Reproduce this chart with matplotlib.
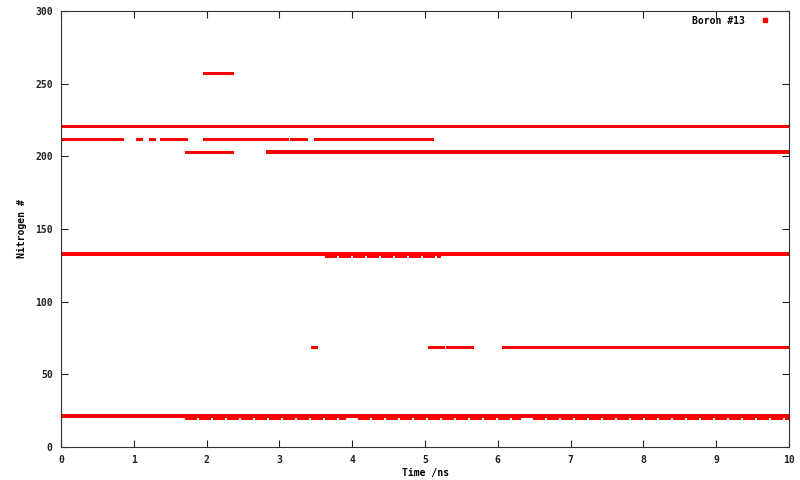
import matplotlib
matplotlib.use("Agg")
import matplotlib.pyplot as plt

# Occupancy segments: nitrogen index bonded to Boron #13, from t_start to t_end (ns)
seg_nitrogen = [221,
                212, 212, 212, 212, 212, 212, 212, 212, 212,
                203, 203, 203, 203,
                257, 257,
                133, 131, 131,
                69, 69, 69, 69, 69, 69, 69, 69, 69,
                21, 19, 19, 19]
seg_t_start = [0.0,
               0.0, 0.90, 1.05, 1.22, 1.38, 1.48, 1.96, 3.16, 3.49,
               0.0, 1.72, 2.25, 2.85,
               1.91, 1.96,
               0.0, 3.64, 1.72,
               3.45, 5.05, 6.07, 8.40, 9.02, 9.26, 9.32, 9.68, 5.30,
               0.0, 1.72, 4.10, 6.50]
seg_t_end = [10.0,
             0.84, 0.90, 1.10, 1.28, 1.45, 1.72, 3.10, 3.36, 5.09,
             0.0, 2.22, 2.35, 10.0,
             1.91, 2.35,
             10.0, 5.20, 1.72,
             3.50, 5.25, 8.36, 8.98, 9.22, 9.27, 9.64, 10.0, 5.65,
             10.0, 3.90, 6.30, 10.0]
seg_width_px = [3,
                3, 3, 3, 3, 3, 3, 3, 3, 3,
                3, 3, 3, 4,
                3, 3,
                4, 2, 2,
                3, 3, 3, 3, 3, 3, 3, 3, 3,
                4, 2, 2, 2]
seg_dashed = [False,
              False, False, False, False, False, False, False, False, False,
              False, False, False, False,
              False, False,
              False, True, False,
              False, False, False, False, False, False, False, False, False,
              False, True, True, True]

series_label = "Boron #13"
x_ticks = [0, 1, 2, 3, 4, 5, 6, 7, 8, 9, 10]
y_ticks = [0, 50, 100, 150, 200, 250, 300]
x_label = "Time /ns"
y_label = "Nitrogen #"

DPI = 100
plt.rcParams['font.family'] = ['DejaVu Sans Mono', 'DejaVu Sans']
plt.rcParams['font.weight'] = 'bold'
plt.rcParams['font.size'] = 7

fig = plt.figure(figsize=(8.0, 4.8), dpi=DPI)
W, H = 800, 480
L, R, T, B = 61, 789, 11, 447
ax = fig.add_axes([L / W, 1 - B / H, (R - L) / W, (B - T) / H])

px = 72.0 / DPI
for n, t0, t1, w, d in zip(seg_nitrogen, seg_t_start, seg_t_end, seg_width_px, seg_dashed):
    lc = ax.hlines([n], [t0], [t1], colors='#ff0000', linewidth=w * px,
                   linestyles=(0, (5, 2)) if d else 'solid')
    lc.set_capstyle('projecting')

ax.plot([], [], 's', color='#ff0000', markersize=2.2, label=series_label)

ax.set_xlim(0, 10)
ax.set_ylim(0, 300)
ax.set_xticks(x_ticks)
ax.set_yticks(y_ticks)
ax.tick_params(direction='in', length=5, width=0.8, top=True, right=True,
               pad=6, labelsize=7, colors='#222222')
for lab in ax.get_xticklabels() + ax.get_yticklabels():
    lab.set_fontweight('bold')
for s in ax.spines.values():
    s.set_linewidth(0.8)
    s.set_color('#333333')

ax.set_xlabel(x_label, fontsize=7, fontweight='bold', labelpad=2)
ax.set_ylabel(y_label, fontsize=7, fontweight='bold', labelpad=5.5)

leg = ax.legend(loc='upper right', frameon=False, markerfirst=False,
                fontsize=7, handletextpad=1.6, borderaxespad=0.3,
                handlelength=1.0, prop={'weight': 'bold', 'size': 7},
                bbox_to_anchor=(1 - 12 / 728, 1.005))

fig.savefig("out.png", dpi=DPI)
